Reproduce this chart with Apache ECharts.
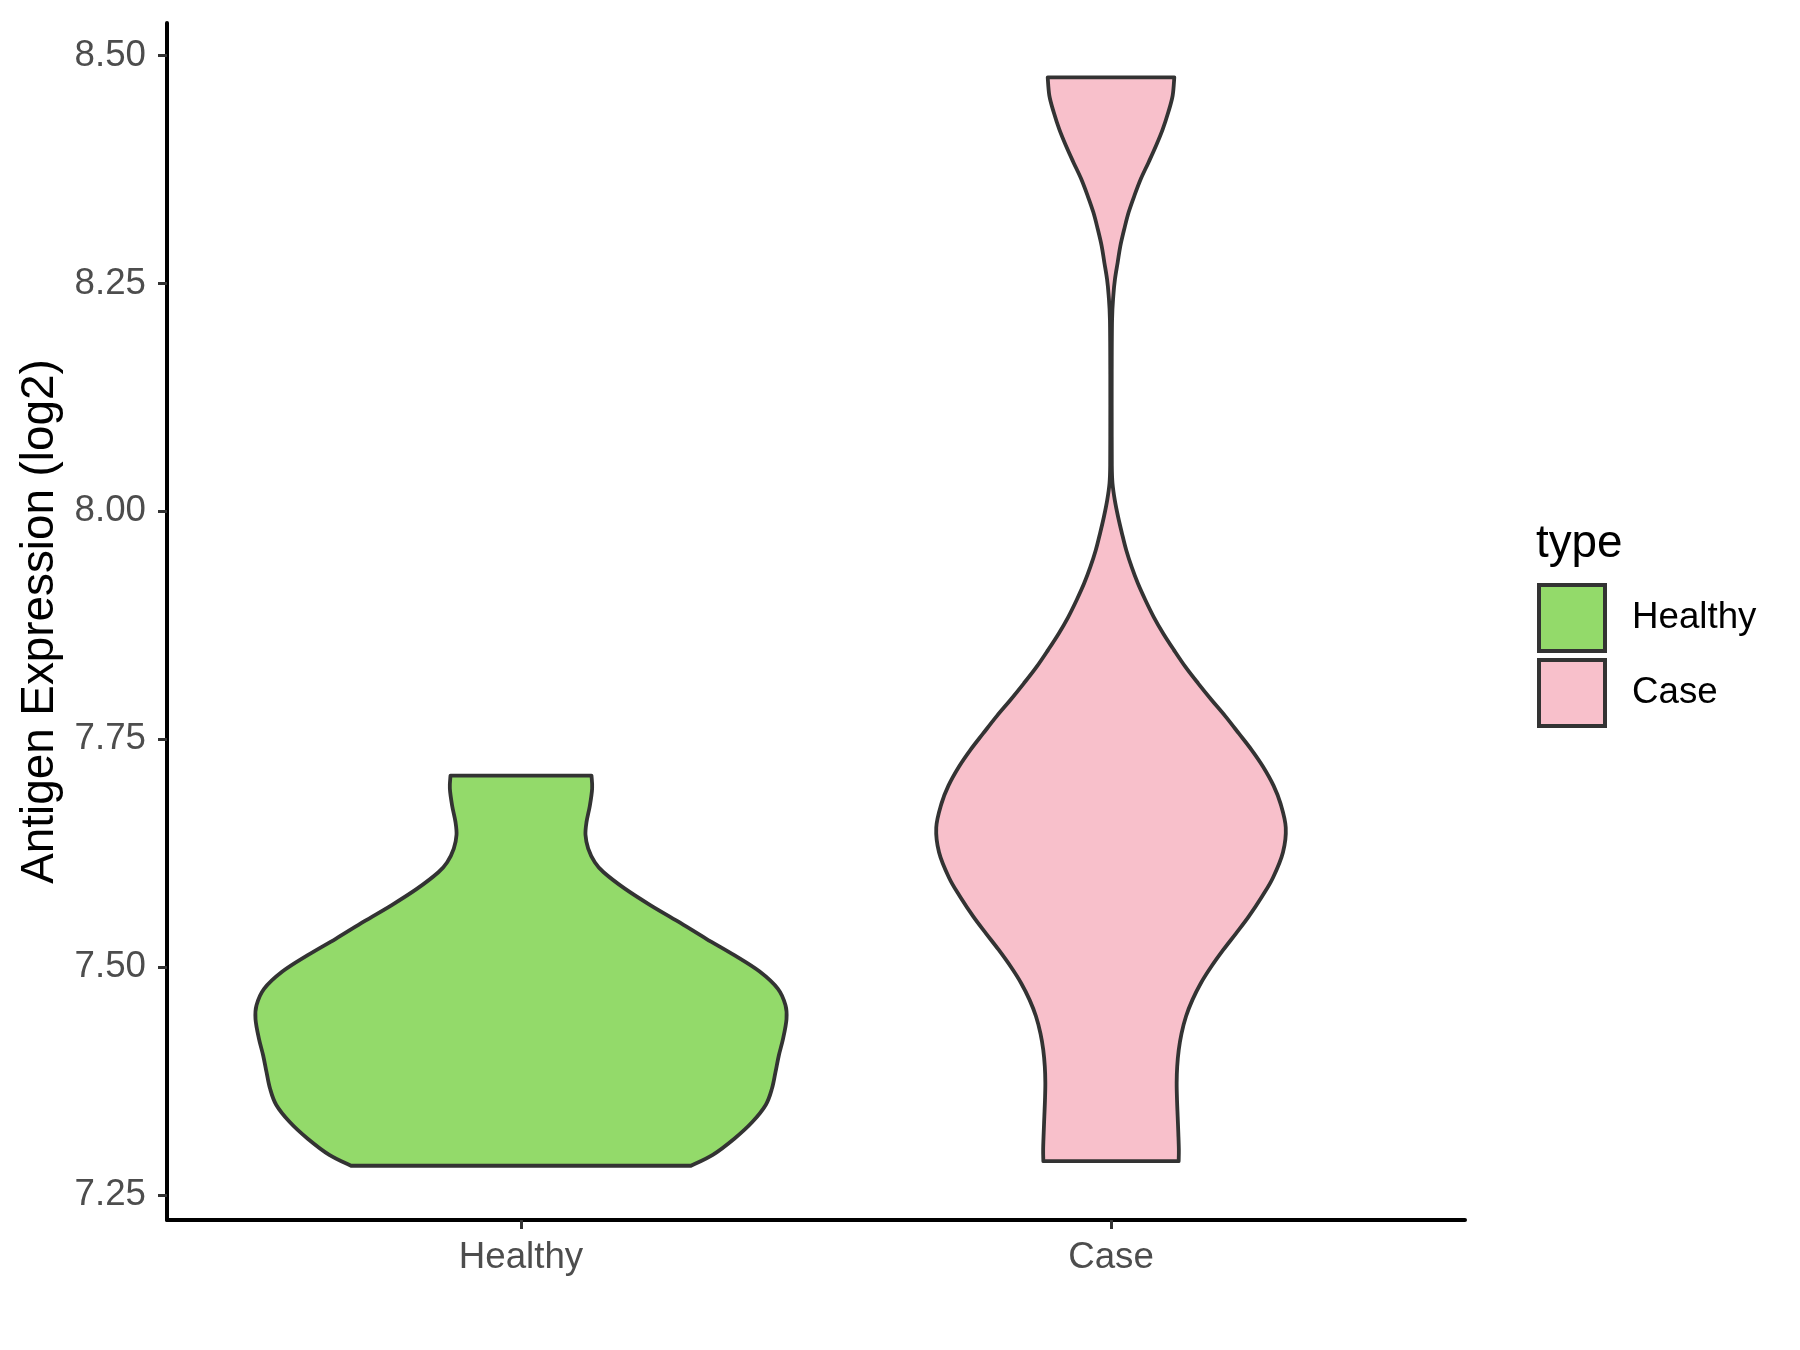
<!DOCTYPE html>
<html>
<head>
<meta charset="utf-8">
<title>Antigen Expression violin</title>
<script src="https://cdn.jsdelivr.net/npm/echarts@6/dist/echarts.min.js"></script>
<style>
  html, body { margin: 0; padding: 0; background: #ffffff; }
  #chart { width: 1800px; height: 1350px; }
</style>
</head>
<body>
<div id="chart"></div>
<script>
// categories and their x positions (discrete axis, 1 and 2)
const categories = ["Healthy", "Case"];
const categoryPos = [1, 2];
const fills = ["#93DA6A", "#F8C0CB"];

// y tick labels
const yTicks = [7.25, 7.5, 7.75, 8.0, 8.25, 8.5];

// violin profiles: expression value -> half width (x units)
const healthyY = [7.710, 7.696, 7.677, 7.659, 7.645, 7.630, 7.615, 7.604, 7.586, 7.568,
  7.550, 7.531, 7.513, 7.495, 7.476, 7.458, 7.443, 7.422, 7.403, 7.385,
  7.367, 7.349, 7.330, 7.312, 7.294, 7.282];
const healthyHalfWidth = [0.1195, 0.1206, 0.1167, 0.1110, 0.1093, 0.1139, 0.1251, 0.1400, 0.1760, 0.2190,
  0.2660, 0.3140, 0.3615, 0.4045, 0.4355, 0.4483, 0.4500, 0.4444, 0.4370, 0.4314,
  0.4255, 0.4150, 0.3920, 0.3620, 0.3250, 0.2880];

const caseY = [8.476, 8.456, 8.438, 8.419, 8.401, 8.383, 8.365, 8.346, 8.328, 8.310,
  8.291, 8.273, 8.255, 8.237, 8.210, 8.150, 8.100, 8.050, 8.031, 8.012,
  7.994, 7.976, 7.957, 7.939, 7.921, 7.903, 7.884, 7.866, 7.848, 7.829,
  7.811, 7.793, 7.775, 7.756, 7.738, 7.720, 7.699, 7.679, 7.653, 7.626,
  7.598, 7.578, 7.555, 7.537, 7.519, 7.500, 7.482, 7.464, 7.446, 7.427,
  7.409, 7.391, 7.373, 7.354, 7.336, 7.318, 7.300, 7.287];
const caseHalfWidth = [0.1073, 0.1045, 0.0972, 0.0876, 0.0763, 0.0638, 0.0508, 0.0395, 0.0299, 0.0226,
  0.0158, 0.0113, 0.0068, 0.0040, 0.0018, 0.0012, 0.0012, 0.0014, 0.0025, 0.0065,
  0.0120, 0.0185, 0.0260, 0.0350, 0.0455, 0.0580, 0.0725, 0.0885, 0.1065, 0.1265,
  0.1480, 0.1705, 0.1940, 0.2170, 0.2385, 0.2575, 0.2755, 0.2875, 0.2962, 0.2915,
  0.2745, 0.2565, 0.2330, 0.2120, 0.1905, 0.1695, 0.1520, 0.1380, 0.1272, 0.1195,
  0.1148, 0.1122, 0.1113, 0.1119, 0.1130, 0.1141, 0.1150, 0.1147];

const profiles = [
  { ys: healthyY, hw: healthyHalfWidth },
  { ys: caseY, hw: caseHalfWidth },
];

const FONT = "'Liberation Sans', Arial, sans-serif";

// smooth curve through pixel points (catmull-rom as cubic bezier)
function curveThrough(pts) {
  let d = "";
  for (let i = 0; i < pts.length - 1; i++) {
    const p0 = pts[Math.max(i - 1, 0)];
    const p1 = pts[i];
    const p2 = pts[i + 1];
    const p3 = pts[Math.min(i + 2, pts.length - 1)];
    const c1x = p1[0] + (p2[0] - p0[0]) / 6, c1y = p1[1] + (p2[1] - p0[1]) / 6;
    const c2x = p2[0] - (p3[0] - p1[0]) / 6, c2y = p2[1] - (p3[1] - p1[1]) / 6;
    d += ` C${c1x},${c1y} ${c2x},${c2y} ${p2[0]},${p2[1]}`;
  }
  return d;
}

function renderViolin(params, api) {
  const prof = profiles[params.seriesIndex];
  const xc = api.value(0);
  // right side bottom -> top, left side top -> bottom
  const right = prof.ys.map((y, i) => api.coord([xc + prof.hw[i], y])).reverse();
  const left = prof.ys.map((y, i) => api.coord([xc - prof.hw[i], y]));
  let d = `M${right[0][0]},${right[0][1]}` + curveThrough(right);
  d += ` L${left[0][0]},${left[0][1]}` + curveThrough(left) + " Z";
  return {
    type: "path",
    shape: { pathData: d },
    style: {
      fill: fills[params.seriesIndex],
      stroke: "#333333",
      lineWidth: 3.8,
      lineJoin: "round",
    },
  };
}

const chart = echarts.init(document.getElementById("chart"), null, { renderer: "canvas" });

chart.setOption({
  animation: false,
  backgroundColor: "#ffffff",
  title: {
    text: "type",
    left: 1536,
    top: 521,
    padding: 0,
    textStyle: { fontFamily: FONT, fontSize: 45.8, fontWeight: "normal", color: "#000000" },
  },
  legend: {
    orient: "vertical",
    left: 1537,
    top: 583,
    padding: 0,
    icon: "rect",
    itemWidth: 66,
    itemHeight: 66,
    itemGap: 5,
    itemStyle: { borderColor: "#333333", borderWidth: 4 },
    textStyle: { fontFamily: FONT, fontSize: 36.7, color: "#000000", padding: [0, 0, 0, 22] },
    data: categories,
  },
  grid: { left: 167, right: 335, top: 23, bottom: 130, outerBoundsMode: "none" },
  xAxis: {
    type: "value",
    min: 0.4,
    max: 2.6,
    splitLine: { show: false },
    axisLine: { show: true, onZero: false, lineStyle: { color: "#000000", width: 4 } },
    axisTick: { show: true, customValues: categoryPos, length: 9, lineStyle: { color: "#333333", width: 3 } },
    axisLabel: {
      customValues: categoryPos,
      margin: 19,
      fontFamily: FONT,
      fontSize: 36.7,
      color: "#4D4D4D",
      formatter: (v) => categories[categoryPos.indexOf(Math.round(v))] || "",
    },
  },
  yAxis: {
    type: "value",
    min: 7.2225,
    max: 8.5357,
    name: "Antigen Expression (log2)",
    nameLocation: "middle",
    nameGap: 99,
    nameTextStyle: { fontFamily: FONT, fontSize: 45.8, color: "#000000" },
    splitLine: { show: false },
    axisLine: { show: true, onZero: false, lineStyle: { color: "#000000", width: 4 } },
    axisTick: { show: true, customValues: yTicks, length: 9, lineStyle: { color: "#333333", width: 3 } },
    axisLabel: {
      customValues: yTicks,
      margin: 21,
      fontFamily: FONT,
      fontSize: 36.7,
      color: "#4D4D4D",
      formatter: (v) => v.toFixed(2),
    },
  },
  series: categories.map((name, i) => ({
    name: name,
    type: "custom",
    renderItem: renderViolin,
    itemStyle: { color: fills[i], borderColor: "#333333", borderWidth: 4 },
    encode: { x: 0, y: 1 },
    data: [[categoryPos[i], 7.5]],
    clip: false,
  })),
});
</script>
</body>
</html>
